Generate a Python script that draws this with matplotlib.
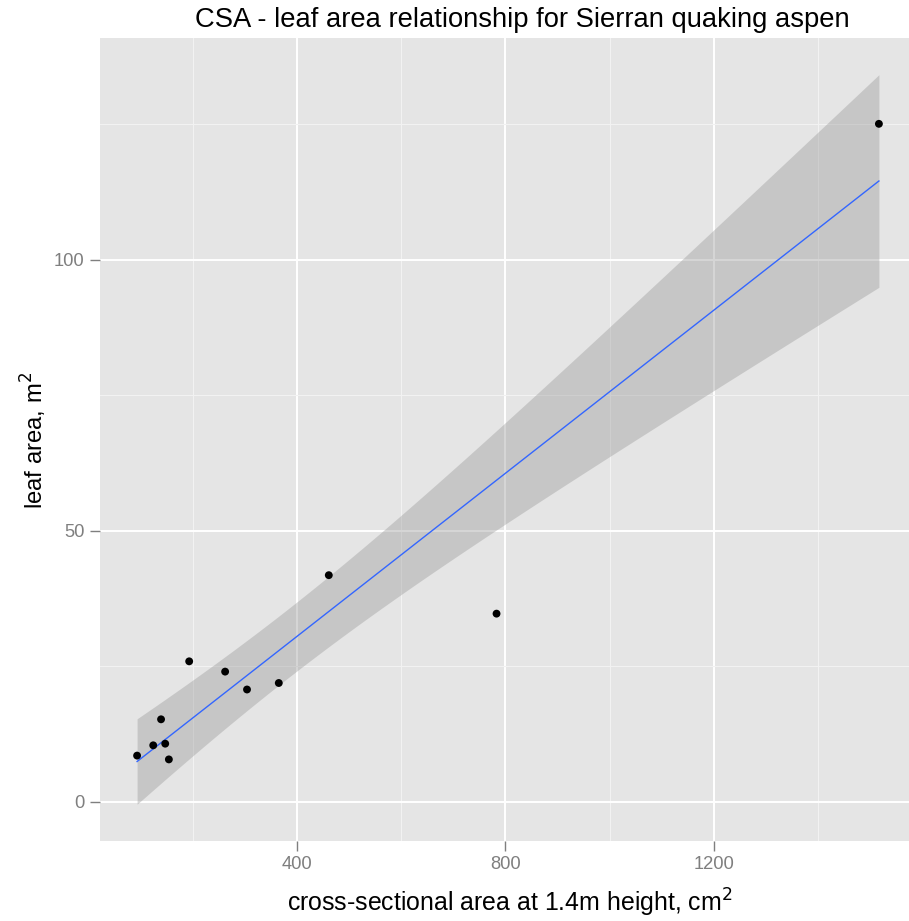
import numpy as np
import matplotlib
matplotlib.use("Agg")
import matplotlib.pyplot as plt
from matplotlib.ticker import FixedLocator

plt.rcParams['font.family'] = ['Liberation Sans', 'DejaVu Sans']

# Cross-sectional area (cm^2) and leaf area (m^2) per tree
csa = [93, 124, 147, 139, 154, 193, 262, 304, 365, 461, 783, 1517]
leaf_area = [8.5, 10.4, 10.7, 15.2, 7.8, 25.9, 24.0, 20.7, 21.9, 41.8, 34.7, 125.1]

x_major = [400, 800, 1200]
x_minor = [200, 600, 1000, 1400]
y_major = [0, 50, 100]
y_minor = [25, 75, 125]

title = "CSA - leaf area relationship for Sierran quaking aspen"
xlabel = "cross-sectional area at 1.4m height, cm$^2$"
ylabel = "leaf area, m$^2$"

# Ordinary least squares fit with 95% confidence band for the mean
x = np.asarray(csa, float)
y = np.asarray(leaf_area, float)
n = len(x)
slope, intercept = np.polyfit(x, y, 1)
resid = y - (intercept + slope * x)
s = np.sqrt(np.sum(resid ** 2) / (n - 2))
t_crit = 2.228  # t quantile, 0.975, df = 10
xs = np.linspace(x.min(), x.max(), 80)
ys = intercept + slope * xs
se = s * np.sqrt(1.0 / n + (xs - x.mean()) ** 2 / np.sum((x - x.mean()) ** 2))
lo, hi = ys - t_crit * se, ys + t_crit * se

W, H = 909, 921
fig = plt.figure(figsize=(W / 100, H / 100), dpi=100)
# panel runs slightly past the right edge of the canvas
ax = fig.add_axes([100 / W, 80.3 / H, 816 / W, 802.5 / H])
ax.set_facecolor('#E5E5E5')

ax.fill_between(xs, lo, hi, color='#999999', alpha=0.4, linewidth=0, zorder=2)
ax.plot(xs, ys, color='#3366FF', linewidth=1.0, zorder=3)
ax.scatter(x, y, s=32, color='black', edgecolors='none', zorder=4)

# ggplot-style 5% expansion
xr = x.max() - x.min()
ax.set_xlim(x.min() - 0.05 * xr, x.max() + 0.05 * xr)
ymin, ymax = min(y.min(), lo.min()), max(y.max(), hi.max())
yr = ymax - ymin
ax.set_ylim(ymin - 0.05 * yr, ymax + 0.05 * yr)

ax.xaxis.set_major_locator(FixedLocator(x_major))
ax.xaxis.set_minor_locator(FixedLocator(x_minor))
ax.yaxis.set_major_locator(FixedLocator(y_major))
ax.yaxis.set_minor_locator(FixedLocator(y_minor))
ax.grid(which='major', color='white', linewidth=1.4, zorder=0)
ax.grid(which='minor', color='#F2F2F2', linewidth=0.8, zorder=0)
ax.set_axisbelow(True)

for sp in ax.spines.values():
    sp.set_visible(False)
ax.tick_params(which='major', length=7, width=1, color='#7F7F7F',
               labelcolor='#7F7F7F', labelsize=13.2, pad=4)
ax.tick_params(which='minor', length=0)

fig.suptitle(title, fontsize=19.7, x=522 / W, y=1 - 20 / H, va='center')
ax.set_xlabel(xlabel, fontsize=17.9)
ax.xaxis.set_label_coords((510 - 100) / 816, -(903 - 841) / 802.5)
ax.xaxis.label.set_va('center')
ax.set_ylabel(ylabel, fontsize=17.2)
ax.yaxis.set_label_coords(-(100 - 34) / 816, (921 - 440 - 80.3) / 802.5)
ax.yaxis.label.set_va('center')

fig.savefig('out.png', dpi=100, facecolor='white')
